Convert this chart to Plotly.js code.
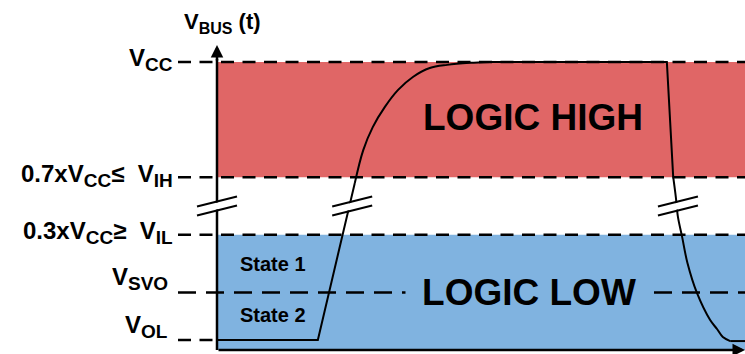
<!DOCTYPE html>
<html>
<head>
<meta charset="utf-8">
<script src="https://cdn.plot.ly/plotly-3.0.1.min.js"></script>
<style>html,body{margin:0;padding:0;background:#fff}</style>
</head>
<body>
<div id="bus-plot" style="width:745px;height:354px"></div>
<script>
// Threshold levels in drawing units (V_CC = 100, bottom of axis = 0, break between VIL and VIH)
const levelNames  = ['VCC', 'VIH', 'VIL', 'VSVO', 'VOL'];
const levelValues = [100, 60, 40, 20, 3.5];
const sub = s => '<sub><span style="font-size:19px">' + s + '</span></sub>';
const levelLabels = [
  'V' + sub('CC'),
  '0.7xV' + sub('CC') + '≤&nbsp; V' + sub('IH'),
  '0.3xV' + sub('CC') + '≥&nbsp; V' + sub('IL'),
  'V' + sub('SVO'),
  'V' + sub('OL')
];

// V_BUS(t) waveform
const waveT = [0, 19.1, 26.1, 27.7, 29.5, 31.8, 34.3, 37.1, 40.3, 43.6, 47.9, 51.7,
               85.2, 86.4, 86.9, 87.3, 88.1, 89.1, 90.9, 93.4, 94.7, 95.8, 97.2, 100];
const waveV = [3.5, 3.5, 58, 69.4, 77.4, 84.4, 90.3, 94.8, 97.9, 99.0, 99.7, 100,
               100, 60.1, 53.1, 46.2, 39.2, 30.2, 19.8, 10.4, 7.3, 4.5, 3.1, 3.1];
// [first index, last index, line shape]
const waveSegments = [[0, 2, 'linear'], [2, 11, 'spline'], [11, 13, 'linear'], [13, 22, 'spline'], [22, 23, 'linear']];

// axis breaks (time positions) at break level
const breakTimes = [0, 25.6, 87.3];
const breakLevel = 50;

const regionTexts = ['LOGIC HIGH', 'LOGIC LOW'];
const regionT = [59.8, 59.0];
const regionV = [80.7, 20];
const stateTexts = ['State 1', 'State 2'];
const stateT = [10.7, 10.7];
const stateV = [30, 12.2];

const X_MIN = -7.386, X_MAX = 100, Y_MAX = 105.9;
const RED = 'rgb(224,102,102)', BLUE = 'rgb(128,179,224)';
const FONT = 'Liberation Sans, Arial, sans-serif';
const lv = name => levelValues[levelNames.indexOf(name)];

const data = waveSegments.map(([a, b, shape]) => ({
  x: waveT.slice(a, b + 1),
  y: waveV.slice(a, b + 1),
  type: 'scatter',
  mode: 'lines',
  line: {color: 'black', width: 2, shape: shape, smoothing: 1},
  hoverinfo: 'skip',
  showlegend: false
}));

const shapes = [
  {type: 'rect', xref: 'x', yref: 'y', x0: 0, x1: X_MAX, y0: lv('VIH'), y1: lv('VCC'),
   fillcolor: RED, line: {width: 0}, layer: 'below'},
  {type: 'rect', xref: 'x', yref: 'y', x0: 0, x1: X_MAX, y0: 0, y1: lv('VIL'),
   fillcolor: BLUE, line: {width: 0}, layer: 'below'}
];

levelNames.forEach((name, i) => {
  shapes.push({
    type: 'line', xref: 'x', yref: 'y',
    x0: X_MIN, x1: name === 'VOL' ? 0 : X_MAX,
    y0: levelValues[i], y1: levelValues[i],
    line: {color: 'black', width: 2.5, dash: name === 'VSVO' ? '18px,10px' : '13px,8.5px'},
    layer: 'below'
  });
});

// y axis line (arrowhead comes from an annotation)
shapes.push({type: 'line', xref: 'x', yref: 'y', x0: 0, x1: 0, y0: -0.8, y1: 101,
  line: {color: 'black', width: 2.5}, layer: 'above'});

// break marks: white gap then two slashes
const dx = 3.788, dy = 1.736, off = 1.5625;
breakTimes.forEach(t => {
  shapes.push({type: 'line', xref: 'x', yref: 'y',
    x0: t - 3.0, x1: t + 3.0, y0: breakLevel - 1.39, y1: breakLevel + 1.39,
    line: {color: 'white', width: 6.5}, layer: 'above'});
  [off, -off].forEach(o => {
    shapes.push({type: 'line', xref: 'x', yref: 'y',
      x0: t - dx, x1: t + dx, y0: breakLevel - dy + o, y1: breakLevel + dy + o,
      line: {color: 'black', width: 2}, layer: 'above'});
  });
});

const annotations = [];

// axis arrowheads
annotations.push({xref: 'x', yref: 'y', axref: 'x', ayref: 'y', x: 0, y: Y_MAX, ax: 0, ay: 100,
  text: '', showarrow: true, arrowhead: 2, arrowsize: 1, arrowwidth: 2.5, arrowcolor: 'black'});
annotations.push({xref: 'x', yref: 'y', axref: 'x', ayref: 'y', x: X_MAX, y: 0, ax: 0, ay: 0,
  text: '', showarrow: true, arrowhead: 2, arrowsize: 1, arrowwidth: 2.5, arrowcolor: 'black'});

// axis title
annotations.push({xref: 'x', yref: 'paper', x: 1.1, y: 1.072, xanchor: 'center', yanchor: 'middle',
  showarrow: false,
  text: '<b>V<sub><span style="font-size:16px">BUS</span></sub> (t)</b>',
  font: {family: FONT, size: 22, color: 'black'}});

// level labels on the left
levelNames.forEach((name, i) => {
  const low = name === 'VSVO' || name === 'VOL';
  annotations.push({
    xref: 'paper', yref: 'y',
    x: low ? -0.0141 : -0.0053, y: levelValues[i],
    xanchor: 'right', yanchor: low ? 'bottom' : 'middle',
    yshift: low ? -4 : 2,
    showarrow: false,
    text: '<b>' + levelLabels[i] + '</b>',
    font: {family: FONT, size: 24, color: 'black'}
  });
});

regionTexts.forEach((txt, i) => {
  annotations.push({
    xref: 'x', yref: 'y', x: regionT[i], y: regionV[i], showarrow: false,
    text: '<b>' + txt + '</b>',
    font: {family: FONT, size: 37, color: 'black'},
    bgcolor: i === 1 ? BLUE : 'rgba(0,0,0,0)',
    width: i === 1 ? 246 : undefined,
    borderpad: 0
  });
});

stateTexts.forEach((txt, i) => {
  annotations.push({
    xref: 'x', yref: 'y', x: stateT[i], y: stateV[i], showarrow: false,
    text: '<b>' + txt + '</b>',
    font: {family: FONT, size: 20, color: 'black'}
  });
});

const layout = {
  width: 745,
  height: 354,
  margin: {l: 178, r: 0, t: 45, b: 4},
  paper_bgcolor: 'white',
  plot_bgcolor: 'white',
  showlegend: false,
  xaxis: {range: [X_MIN, X_MAX], visible: false, fixedrange: true},
  yaxis: {range: [0, Y_MAX], visible: false, fixedrange: true},
  shapes: shapes,
  annotations: annotations
};

Plotly.newPlot('bus-plot', data, layout, {staticPlot: true, displayModeBar: false});
</script>
</body>
</html>
